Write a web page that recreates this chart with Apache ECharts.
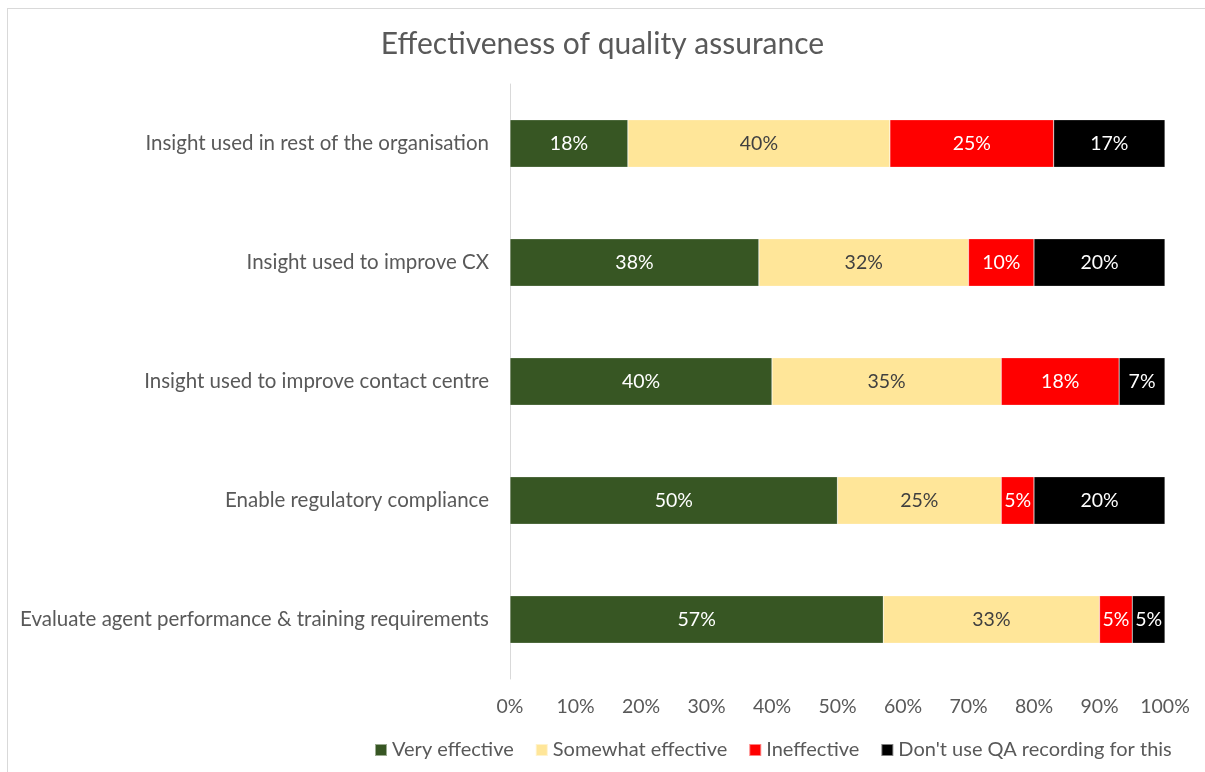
<!DOCTYPE html>
<html>
<head>
<meta charset="utf-8">
<script src="https://cdn.jsdelivr.net/npm/echarts@6/dist/echarts.min.js"></script>
<style>
html,body{margin:0;padding:0;background:#fff;}
#frame{position:absolute;left:7px;top:8px;width:1220px;height:790px;border:1px solid #d9d9d9;box-sizing:border-box;}
#chart{position:absolute;left:0;top:0;width:1205px;height:772px;}
</style>
</head>
<body>
<div id="frame"></div>
<div id="chart"></div>
<script>
const categories = [
  "Insight used in rest of the organisation",
  "Insight used to improve CX",
  "Insight used to improve contact centre",
  "Enable regulatory compliance",
  "Evaluate agent performance & training requirements"
];
const veryEffective = [18, 38, 40, 50, 57];
const somewhatEffective = [40, 32, 35, 25, 33];
const ineffective = [25, 10, 18, 5, 5];
const dontUse = [17, 20, 7, 20, 5];
const seriesNames = ["Very effective", "Somewhat effective", "Ineffective", "Don't use QA recording for this"];
const xTicks = [0, 10, 20, 30, 40, 50, 60, 70, 80, 90, 100];

const FONT = "Lato";
const TXT = "#595959";
const colors = ["#375623", "#FFE699", "#FF0000", "#000000"];
const labelColors = ["#ffffff", "#404040", "#ffffff", "#ffffff"];
const datas = [veryEffective, somewhatEffective, ineffective, dontUse];

const chart = echarts.init(document.getElementById('chart'), null, {renderer: 'canvas'});
chart.setOption({
  backgroundColor: 'transparent',
  animation: false,
  title: {
    text: "Effectiveness of quality assurance",
    left: 'center',
    top: 24,
    textStyle: {fontFamily: FONT, fontSize: 30, fontWeight: 'normal', color: TXT}
  },
  legend: {
    bottom: 7,
    left: 369,
    itemWidth: 12,
    itemHeight: 12,
    itemGap: 21,
    icon: 'rect',
    textStyle: {fontFamily: FONT, fontSize: 20, color: TXT},
    data: seriesNames
  },
  grid: {left: 510, right: 40, top: 84, bottom: 93, containLabel: false},
  xAxis: {
    type: 'value',
    min: xTicks[0],
    max: xTicks[xTicks.length - 1],
    interval: 10,
    axisLine: {show: false},
    axisTick: {show: false},
    splitLine: {show: false},
    axisLabel: {formatter: '{value}%', fontFamily: FONT, fontSize: 19.5, color: TXT, margin: 18}
  },
  yAxis: {
    type: 'category',
    inverse: true,
    data: categories,
    axisLine: {show: true, lineStyle: {color: '#d9d9d9', width: 1}},
    axisTick: {show: false},
    axisLabel: {fontFamily: FONT, fontSize: 20.5, color: TXT, margin: 21}
  },
  series: seriesNames.map((name, i) => ({
    name: name,
    type: 'bar',
    stack: 'total',
    barWidth: '40%',
    data: datas[i],
    itemStyle: {color: colors[i], borderColor: 'rgba(255,255,255,0.5)', borderWidth: 0.5},
    label: {
      show: true,
      position: 'inside',
      formatter: '{c}%',
      fontFamily: FONT,
      fontSize: 19.5,
      color: labelColors[i]
    }
  }))
});
</script>
</body>
</html>
